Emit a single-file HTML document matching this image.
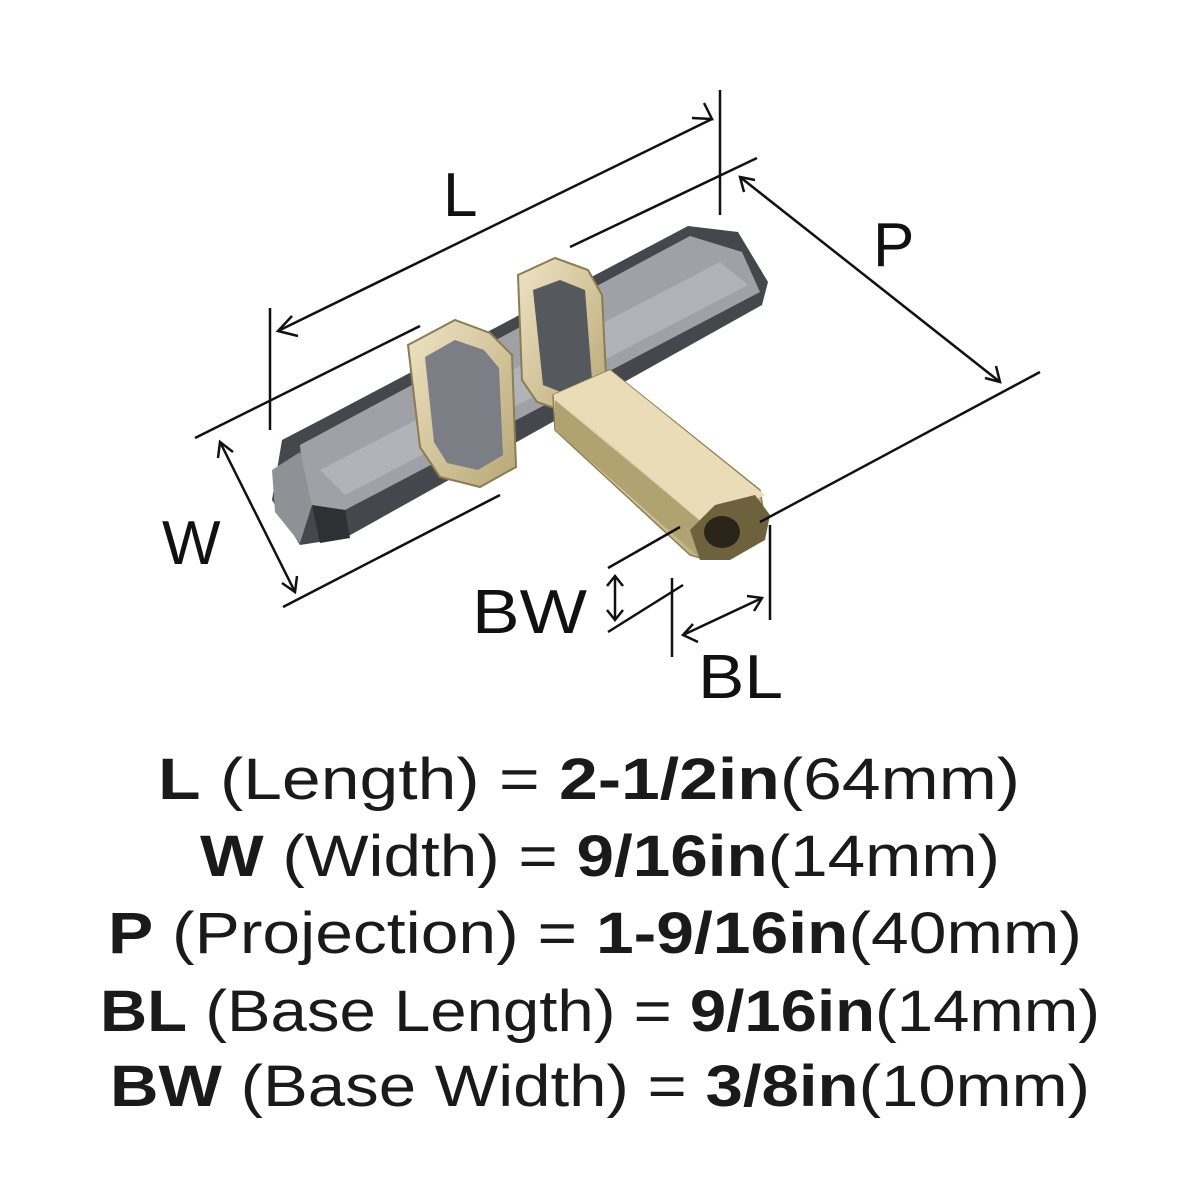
<!DOCTYPE html>
<html><head><meta charset="utf-8"><style>
html,body{margin:0;padding:0;background:#fff;}
svg{display:block;}
</style></head><body>
<svg width="1200" height="1200" viewBox="0 0 1200 1200" xmlns="http://www.w3.org/2000/svg">
<defs>
<linearGradient id="gg" x1="0" y1="0" x2="1" y2="1"><stop offset="0" stop-color="#efe4c4"/><stop offset="1" stop-color="#b8a776"/></linearGradient>
</defs>
<!-- bar -->
<polygon points="282,440 330,415 688,226 738,232 768,282 762,305 345,538 300,545 272,500" fill="#44474c"/>
<polygon points="300,445 690,236 742,252 760,292 345,510 305,505" fill="#9fa1a6"/>
<polygon points="320,470 720,262 748,285 345,495" fill="#b9bbc0" opacity="0.7"/>
<polygon points="272,470 300,452 312,505 300,543 275,512" fill="#8f9197"/>
<polygon points="312,505 345,510 350,538 320,543" fill="#2e3034"/>
<!-- rings -->
<polygon points="518,275 555,258 588,270 602,295 607,395 572,414 537,402 522,380" fill="url(#gg)" stroke="#8a7d55" stroke-width="2"/>
<polygon points="533,290 560,280 585,290 592,380 566,394 543,385" fill="#55585d"/>
<polygon points="408,345 455,320 490,333 512,355 516,467 480,487 440,477 420,447" fill="url(#gg)" stroke="#8a7d55" stroke-width="2"/>
<polygon points="425,357 455,340 484,350 499,368 503,455 478,470 447,463 434,442" fill="#7b7e84"/>
<!-- stem -->
<polygon points="553,395 610,370 760,490 765,520 700,558 690,555 555,430" fill="url(#gg)" stroke="#8a7d55" stroke-width="1.5"/>
<polygon points="553,395 610,370 765,495 705,525" fill="#e9dcb6"/>
<polygon points="555,400 705,525 700,558 555,430" fill="#b1a271"/>
<polygon points="690,530 715,505 755,495 770,515 765,540 730,560 700,560" fill="#6e623e"/>
<ellipse cx="722" cy="532" rx="18" ry="16" fill="#2a2418"/>
<!-- dimension lines -->
<g stroke="#111" stroke-width="2.5" fill="none">
<line x1="270" y1="308" x2="270" y2="430"/>
<line x1="720" y1="90" x2="720" y2="215"/>
<line x1="278" y1="331" x2="712" y2="119"/>
<polyline points="292,316 278,331 298,336"/>
<polyline points="692,118 712,119 704,103"/>
<line x1="195" y1="438" x2="420" y2="326"/>
<line x1="570" y1="247" x2="757" y2="158"/>
<line x1="740" y1="177" x2="1000" y2="382"/>
<polyline points="744,192 740,177 755,180"/>
<polyline points="996,366 1000,382 985,378"/>
<line x1="760" y1="522" x2="1040" y2="372"/>
<line x1="220" y1="442" x2="295" y2="592"/>
<polyline points="218,458 220,442 233,452"/>
<polyline points="297,576 295,592 282,583"/>
<line x1="283" y1="607" x2="500" y2="495"/>
<line x1="608" y1="568" x2="680" y2="527"/>
<line x1="608" y1="632" x2="683" y2="585"/>
<line x1="615" y1="578" x2="615" y2="618"/>
<polyline points="607,586 615,576 623,586"/>
<polyline points="607,610 615,620 623,610"/>
<line x1="672" y1="578" x2="672" y2="657"/>
<line x1="770" y1="525" x2="770" y2="620"/>
<line x1="683" y1="635" x2="762" y2="598"/>
<polyline points="698,642 683,635 693,624"/>
<polyline points="747,596 762,598 754,611"/>
</g>
<g font-family="Liberation Sans, sans-serif" fill="#111" font-size="62">
<text x="443" y="216">L</text>
<text x="873" y="266">P</text>
<text x="162" y="564">W</text>
<text x="472" y="633" textLength="115" lengthAdjust="spacingAndGlyphs">BW</text>
<text x="698" y="698" textLength="85" lengthAdjust="spacingAndGlyphs">BL</text>
</g>
<g font-family="Liberation Sans, sans-serif" fill="#1a1a1a" font-size="58">
<text x="158" y="799" textLength="862" lengthAdjust="spacingAndGlyphs"><tspan font-weight="bold">L</tspan> (Length) = <tspan font-weight="bold">2-1/2in</tspan>(64mm)</text>
<text x="200" y="876" textLength="800" lengthAdjust="spacingAndGlyphs"><tspan font-weight="bold">W</tspan> (Width) = <tspan font-weight="bold">9/16in</tspan>(14mm)</text>
<text x="108" y="953" textLength="974" lengthAdjust="spacingAndGlyphs"><tspan font-weight="bold">P</tspan> (Projection) = <tspan font-weight="bold">1-9/16in</tspan>(40mm)</text>
<text x="100" y="1031" textLength="1000" lengthAdjust="spacingAndGlyphs"><tspan font-weight="bold">BL</tspan> (Base Length) = <tspan font-weight="bold">9/16in</tspan>(14mm)</text>
<text x="110" y="1106" textLength="980" lengthAdjust="spacingAndGlyphs"><tspan font-weight="bold">BW</tspan> (Base Width) = <tspan font-weight="bold">3/8in</tspan>(10mm)</text>
</g>
</svg>
</body></html>
